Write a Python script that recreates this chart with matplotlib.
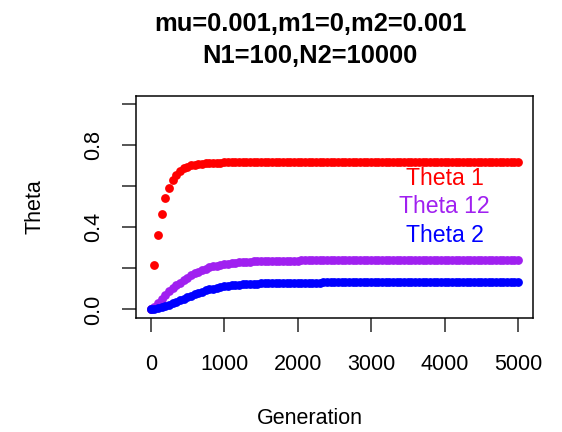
import numpy as np
import matplotlib
matplotlib.use('Agg')
import matplotlib.pyplot as plt

plt.rcParams['font.family'] = ['Liberation Sans', 'DejaVu Sans']

# Generations sampled every 50 steps
generation = np.arange(0, 5001, 50)

theta1 = [
    0.000, 0.216, 0.362, 0.467, 0.541, 0.592, 0.631, 0.656, 0.674, 0.687,
    0.696, 0.702, 0.706, 0.709, 0.711, 0.713, 0.714, 0.715, 0.716, 0.716,
    0.717, 0.717, 0.717, 0.717, 0.717, 0.717, 0.717, 0.717, 0.717, 0.717,
    0.717, 0.717, 0.717, 0.717, 0.717, 0.717, 0.717, 0.717, 0.717, 0.717,
    0.717, 0.717, 0.717, 0.717, 0.717, 0.717, 0.717, 0.717, 0.717, 0.717,
    0.717, 0.717, 0.717, 0.717, 0.717, 0.717, 0.717, 0.717, 0.717, 0.717,
    0.717, 0.717, 0.717, 0.717, 0.717, 0.717, 0.717, 0.717, 0.717, 0.717,
    0.717, 0.717, 0.717, 0.717, 0.717, 0.717, 0.717, 0.717, 0.717, 0.717,
    0.717, 0.717, 0.717, 0.717, 0.717, 0.717, 0.717, 0.717, 0.717, 0.717,
    0.717, 0.717, 0.717, 0.717, 0.717, 0.717, 0.717, 0.717, 0.717, 0.717,
    0.717,
]
theta12 = [
    0.000, 0.012, 0.030, 0.050, 0.070, 0.088, 0.103, 0.117, 0.130, 0.142,
    0.155, 0.166, 0.176, 0.185, 0.193, 0.199, 0.205, 0.210, 0.214, 0.218,
    0.221, 0.223, 0.226, 0.227, 0.229, 0.230, 0.232, 0.233, 0.234, 0.234,
    0.235, 0.236, 0.236, 0.237, 0.237, 0.237, 0.238, 0.238, 0.238, 0.238,
    0.238, 0.239, 0.239, 0.239, 0.239, 0.239, 0.239, 0.239, 0.239, 0.239,
    0.239, 0.239, 0.239, 0.239, 0.239, 0.239, 0.239, 0.239, 0.239, 0.239,
    0.239, 0.239, 0.239, 0.239, 0.239, 0.239, 0.239, 0.239, 0.239, 0.239,
    0.239, 0.239, 0.239, 0.239, 0.239, 0.239, 0.239, 0.239, 0.239, 0.239,
    0.239, 0.239, 0.239, 0.239, 0.239, 0.239, 0.239, 0.239, 0.239, 0.239,
    0.239, 0.239, 0.239, 0.239, 0.239, 0.239, 0.239, 0.239, 0.239, 0.239,
    0.239,
]
theta2 = [
    0.000, 0.002, 0.006, 0.011, 0.017, 0.024, 0.031, 0.038, 0.046, 0.053,
    0.060, 0.068, 0.075, 0.081, 0.087, 0.093, 0.098, 0.102, 0.106, 0.109,
    0.112, 0.114, 0.117, 0.118, 0.120, 0.122, 0.123, 0.124, 0.125, 0.126,
    0.127, 0.127, 0.128, 0.128, 0.129, 0.129, 0.130, 0.130, 0.130, 0.131,
    0.131, 0.131, 0.131, 0.1312, 0.1312, 0.1313, 0.1314, 0.1315, 0.1316, 0.1317,
    0.1318, 0.1318, 0.1319, 0.132, 0.132, 0.132, 0.132, 0.132, 0.132, 0.132,
    0.132, 0.132, 0.132, 0.132, 0.132, 0.132, 0.132, 0.132, 0.132, 0.132,
    0.132, 0.132, 0.132, 0.132, 0.132, 0.132, 0.132, 0.132, 0.132, 0.132,
    0.132, 0.132, 0.132, 0.132, 0.132, 0.132, 0.132, 0.132, 0.132, 0.132,
    0.132, 0.132, 0.132, 0.132, 0.132, 0.132, 0.132, 0.132, 0.132, 0.132,
    0.132,
]

series = [('Theta 1', theta1, '#FF0000', 0.64),
          ('Theta 12', theta12, '#A020F0', 0.50),
          ('Theta 2', theta2, '#0000FF', 0.36)]

xticks = [0, 1000, 2000, 3000, 4000, 5000]
yticks = [0.0, 0.2, 0.4, 0.6, 0.8, 1.0]
ylabels = ['0.0', '', '0.4', '', '0.8', '']

fig = plt.figure(figsize=(562 / 72, 432 / 72), dpi=72)
ax = fig.add_axes([136 / 562, 1 - 317.7 / 432, (532.7 - 136) / 562, (317.7 - 96) / 432])

for name, vals, col, ty in series:
    ax.scatter(generation, vals, s=8.8 ** 2, c=col, linewidths=0, snap=False, zorder=2)

for name, vals, col, ty in series:
    ax.text(4000, ty, name, color=col, fontsize=23, ha='center', va='center')

ax.set_xlim(-200, 5200)
ax.set_ylim(-0.04, 1.04)
ax.set_xticks(xticks)
ax.set_xticklabels([str(t) for t in xticks])
ax.set_yticks(yticks)
ax.set_yticklabels(ylabels, rotation=90, va='center')
ax.tick_params(axis='both', length=14, width=1.5, labelsize=21.5, color='#222222')
ax.tick_params(axis='x', pad=22)
ax.tick_params(axis='y', pad=18)
for sp in ax.spines.values():
    sp.set_linewidth(1.5)

# labels and title placed like the R device output
fig.text(310 / 562, 1 - 418 / 432, 'Generation', fontsize=21.5, ha='center', va='center')
fig.text(35 / 562, 1 - 207 / 432, 'Theta', fontsize=21.5, ha='center', va='center', rotation=90)
fig.text(310 / 562, 1 - 24 / 432, 'mu=0.001,m1=0,m2=0.001', fontsize=25.5,
         fontweight='bold', ha='center', va='center')
fig.text(310 / 562, 1 - 56 / 432, 'N1=100,N2=10000', fontsize=25.5,
         fontweight='bold', ha='center', va='center')

fig.savefig('out.png', dpi=72)
